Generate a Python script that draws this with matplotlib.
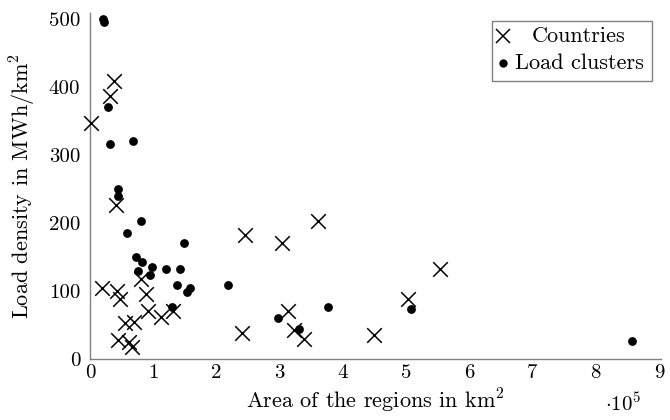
import matplotlib
matplotlib.use("Agg")
import matplotlib.pyplot as plt
from matplotlib.lines import Line2D
from matplotlib.patches import Rectangle

plt.rcParams['font.family'] = 'serif'
plt.rcParams['font.serif'] = ['cmr10']
plt.rcParams['mathtext.fontset'] = 'cm'
plt.rcParams['axes.unicode_minus'] = False

# area in 1e5 km^2, load density in MWh/km^2
country_area = [0.01, 0.38, 0.31, 0.41, 0.19, 0.43, 0.47, 0.89, 0.81, 0.92,
                1.12, 1.32, 0.55, 0.70, 0.45, 0.61, 0.66,
                2.45, 3.03, 3.60, 5.53, 5.03, 3.14, 3.23, 3.38, 2.40, 4.49]
country_density = [347, 409, 387, 226, 105, 100, 88, 96, 117, 71,
                   62, 71, 53, 55, 28, 25, 18,
                   182, 171, 203, 133, 88, 70, 43, 29, 38, 35]

cluster_area = [0.21, 0.22, 0.29, 0.32, 0.68, 0.45, 0.45, 0.80, 0.58, 1.49,
                0.73, 0.83, 0.76, 0.98, 0.95, 1.20, 1.43, 1.38, 1.58, 1.53,
                2.19, 1.29, 2.97, 3.31, 3.77, 5.08, 8.57]
cluster_density = [500, 495, 370, 316, 321, 250, 240, 203, 186, 171,
                   150, 143, 129, 136, 124, 132, 132, 109, 104, 98,
                   109, 76, 60, 44, 77, 73, 27]

x_ticks = [0, 1, 2, 3, 4, 5, 6, 7, 8, 9]
y_ticks = [0, 100, 200, 300, 400, 500]
legend_labels = ['Countries', 'Load clusters']

fig = plt.figure(figsize=(6.7, 4.2), dpi=100)
ax = fig.add_axes([0.1343, 0.1452, 0.852, 0.824])

ax.scatter(country_area, country_density, marker='x', s=110, c='black',
           linewidths=1.1, clip_on=False, zorder=3)
ax.scatter(cluster_area, cluster_density, marker='o', s=40, c='black',
           linewidths=0, clip_on=False, zorder=3)

ax.set_xlim(0, 9.03)
ax.set_ylim(0, 509)
ax.set_xticks(x_ticks)
ax.set_yticks(y_ticks)
ax.set_xticklabels([str(t) for t in x_ticks])
ax.set_yticklabels([str(t) for t in y_ticks])
ax.tick_params(length=0, labelsize=15)
ax.tick_params(axis='x', pad=4)
ax.tick_params(axis='y', pad=7)

for side in ['top', 'right']:
    ax.spines[side].set_visible(False)
for side in ['left', 'bottom']:
    ax.spines[side].set_color('0.5')
    ax.spines[side].set_linewidth(1.0)

ax.set_xlabel(r'Area of the regions in km$^2$', fontsize=16, labelpad=3)
ax.set_ylabel(r'Load density in MWh/km$^2$', fontsize=16, labelpad=8)
ax.text(0.902, -0.13, r'$\cdot10^5$', transform=ax.transAxes, fontsize=15,
        ha='left', va='center')

# legend drawn by hand so the entries are centred like the original
fw, fh = 670.0, 420.0
frame = Rectangle((492 / fw, 1 - 81 / fh), 160 / fw, 60 / fh,
                  transform=fig.transFigure, fill=True, facecolor='white',
                  edgecolor='0.5', linewidth=1.0, zorder=5)
fig.add_artist(frame)
fig.add_artist(Line2D([503 / fw], [1 - 36 / fh], marker='x', color='black',
                      markersize=10, markeredgewidth=1.1, linestyle='none',
                      transform=fig.transFigure, zorder=6))
fig.add_artist(Line2D([503 / fw], [1 - 63 / fh], marker='o', color='black',
                      markersize=6, markeredgewidth=0, linestyle='none',
                      transform=fig.transFigure, zorder=6))
fig.text(579 / fw, 1 - 36 / fh, legend_labels[0], fontsize=16,
         ha='center', va='center', zorder=6)
fig.text(579 / fw, 1 - 63 / fh, legend_labels[1], fontsize=16,
         ha='center', va='center', zorder=6)

fig.savefig('out.png', dpi=100)
